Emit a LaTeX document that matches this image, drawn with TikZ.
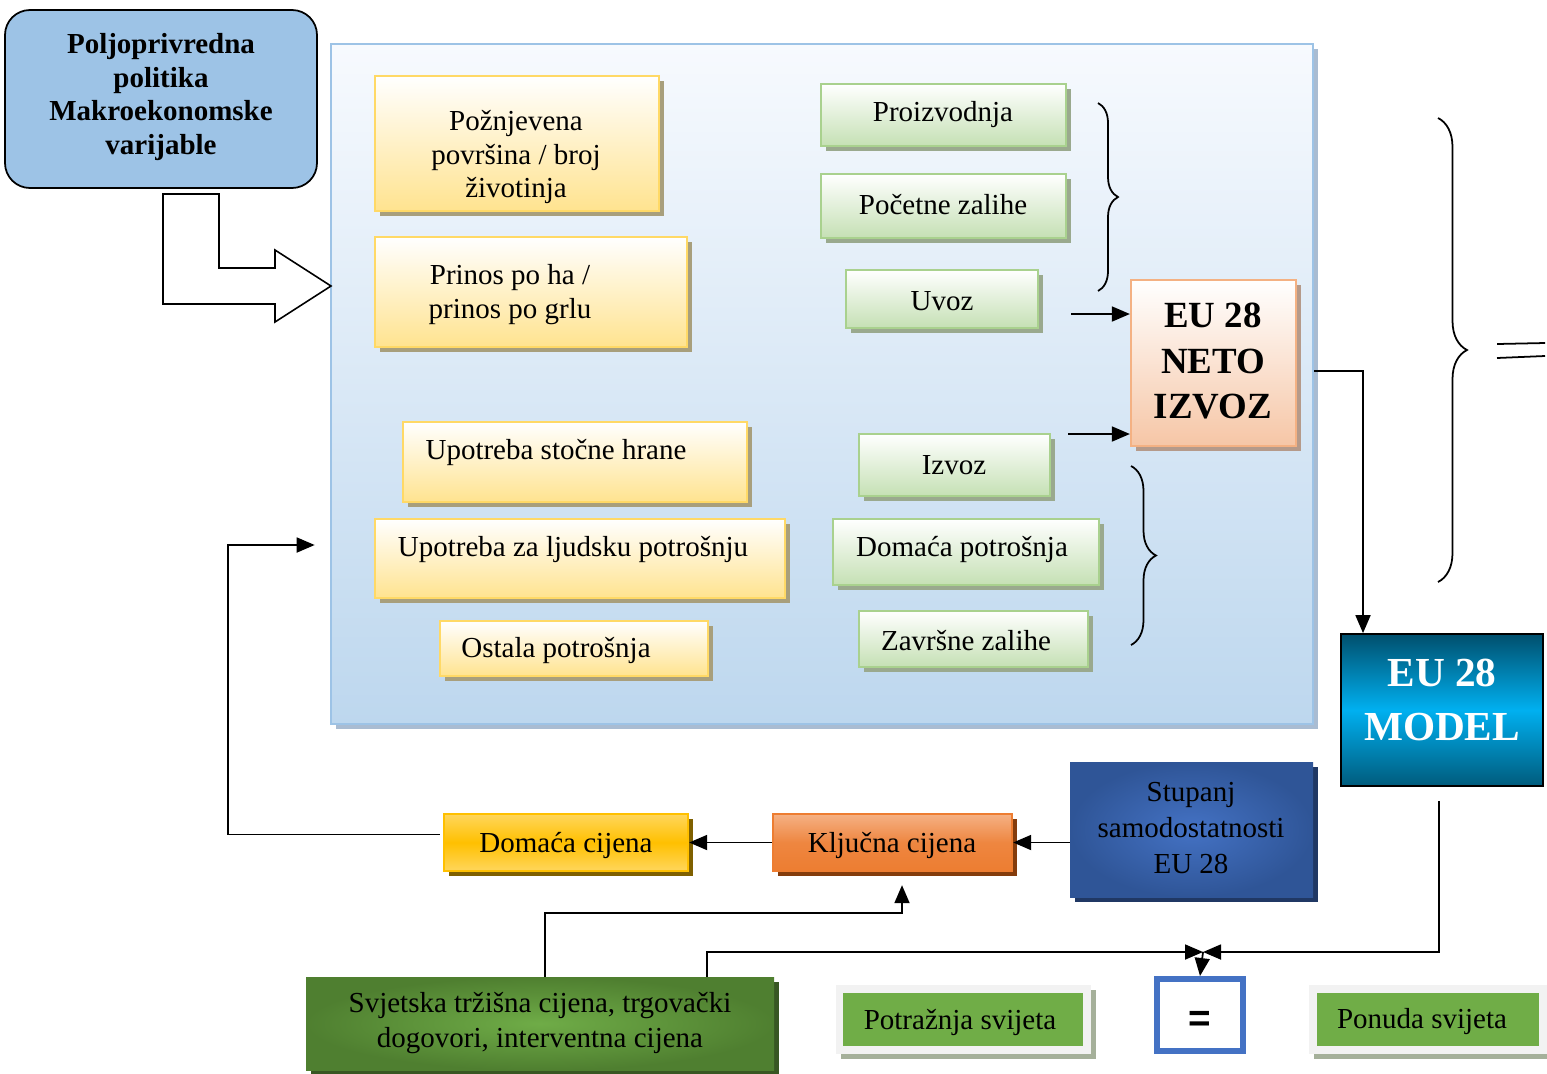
\documentclass[tikz,border=0pt]{standalone}
\usepackage{fontspec}
\setmainfont{Liberation Serif}
\newfontfamily\eqfont{Liberation Sans}
\usetikzlibrary{arrows.meta,calc,fit,shadows,decorations.pathreplacing}
\definecolor{polblue}{HTML}{9DC3E6}
\definecolor{paneltop}{HTML}{F7FAFE}
\definecolor{panelbot}{HTML}{BDD7EE}
\definecolor{panelsh}{HTML}{A9BCD2}
\definecolor{ybord}{HTML}{FFD966}
\definecolor{yfill}{HTML}{FFE38F}
\definecolor{yshad}{HTML}{A89F7C}
\definecolor{gbord}{HTML}{A9D18E}
\definecolor{gfill}{HTML}{C5E0B4}
\definecolor{gshad}{HTML}{9AA98E}
\definecolor{nbord}{HTML}{F4B183}
\definecolor{nfill}{HTML}{F6C6A6}
\definecolor{nshad}{HTML}{B59A8A}
\definecolor{mdark}{HTML}{004F6D}
\definecolor{mdark2}{HTML}{005B7C}
\definecolor{mbright}{HTML}{00B0F0}
\definecolor{stin}{HTML}{4472C4}
\definecolor{stout}{HTML}{2F5597}
\definecolor{stsh}{HTML}{203864}
\definecolor{kltop}{HTML}{F5B184}
\definecolor{klmid}{HTML}{EE8640}
\definecolor{klbot}{HTML}{ED7D31}
\definecolor{klsh}{HTML}{843C0C}
\definecolor{dctop}{HTML}{FFD65C}
\definecolor{dcmid}{HTML}{FFC000}
\definecolor{dcsh}{HTML}{7F6000}
\definecolor{svin}{HTML}{6FAC47}
\definecolor{svout}{HTML}{4F7F30}
\definecolor{svsh}{HTML}{385723}
\definecolor{eqblue}{HTML}{4472C4}
\definecolor{frgray}{HTML}{F2F2F2}
\definecolor{wgreen}{HTML}{70AD47}
\definecolor{wsh}{HTML}{A5B09A}
\begin{document}
\begin{tikzpicture}[x=0.02cm,y=-0.02cm,
  font=\fontsize{16.5}{19.3}\selectfont,
  shad/.style={drop shadow={shadow xshift=0.1cm,shadow yshift=-0.1cm,fill=#1,opacity=1}},
  ybox/.style={draw=ybord,line width=1.3pt,top color=white,bottom color=yfill,shad=yshad,inner sep=0pt},
  gbox/.style={draw=gbord,line width=1.3pt,top color=white,bottom color=gfill,shad=gshad,inner sep=0pt},
  conn/.style={line width=1pt,draw=black},
  arr/.style={conn,-{Triangle[length=0.36cm,width=0.3cm]}},
  bracestyle/.style={line width=1pt,decorate,decoration={brace,amplitude=#1}},
  wframe/.style={fill=frgray,inner sep=0pt,shad=wsh},
  wbox/.style={fill=wgreen,inner sep=0pt},
  lbl/.style={align=center,inner sep=0pt}]
\useasboundingbox (0,0) rectangle (1547,1073);
\fill[white] (0,0) rectangle (1547,1073);

% left policy box
\node[draw=black,line width=1pt,fill=polblue,rounded corners=0.5cm,inner sep=0pt,
  fit={(5,10)(317,188)}] (pol) {};
\node[lbl,font=\fontsize{16.5}{19.3}\selectfont\bfseries] (tpol) at (161,97) {Poljoprivredna\\politika\\Makroekonomske\\varijable};

% big panel
\node[draw=polblue,line width=1.5pt,top color=paneltop,bottom color=panelbot,
  shad=panelsh,inner sep=0pt,fit={(331,44)(1313,724)}] (panel) {};

% block arrow
\draw[line width=0.9pt,fill=white] (163,194) -- (219,194) -- (219,268) -- (275,268) -- (275,250)
  -- (331,286) -- (275,322) -- (275,304) -- (163,304) -- cycle;

% yellow boxes
\node[ybox,fit={(375,76)(659,211)}] (y1) {};
\node[lbl] (ty1) at (516,157) {Požnjevena\\površina / broj\\životinja};
\node[ybox,fit={(375,237)(687,347)}] (y2) {};
\node[lbl] (ty2) at (510,295) {Prinos po ha /\\prinos po grlu};
\node[ybox,fit={(403,422)(747,502)}] (y3) {};
\node[lbl] (ty3) at (556,452) {Upotreba stočne hrane};
\node[ybox,fit={(375,519)(785,598)}] (y4) {};
\node[lbl] (ty4) at (573,549) {Upotreba za ljudsku potrošnju};
\node[ybox,fit={(440,621)(708,676)}] (y5) {};
\node[lbl] (ty5) at (556,650) {Ostala potrošnja};

% green boxes
\node[gbox,fit={(821,84)(1066,146)}] (g1) {};
\node[lbl] (tg1) at (943,115) {Proizvodnja};
\node[gbox,fit={(821,174)(1066,238)}] (g2) {};
\node[lbl] (tg2) at (943,205) {Početne zalihe};
\node[gbox,fit={(846,270)(1038,328)}] (g3) {};
\node[lbl] (tg3) at (942,301) {Uvoz};
\node[gbox,fit={(859,434)(1050,496)}] (g4) {};
\node[lbl] (tg4) at (954,465) {Izvoz};
\node[gbox,fit={(833,519)(1099,585)}] (g5) {};
\node[lbl] (tg5) at (962,549) {Domaća potrošnja};
\node[gbox,fit={(859,611)(1088,667)}] (g6) {};
\node[lbl] (tg6) at (966,641) {Završne zalihe};

% braces
\draw[bracestyle=0.4cm] (1098,103) -- (1098,291);
\draw[bracestyle=0.5cm] (1131,466) -- (1131,645);
\draw[bracestyle=0.58cm] (1438,118) -- (1438,582);
\draw[line width=1pt] (1497,344) -- (1545,343);
\draw[line width=1pt] (1497,358) -- (1545,356);

% neto izvoz
\node[draw=nbord,line width=1.3pt,top color=white,bottom color=nfill,shad=nshad,inner sep=0pt,
  fit={(1131,280)(1296,446)}] (neto) {};
\node[lbl,font=\fontsize{21}{26}\selectfont\bfseries] (tneto) at (1213,361) {EU 28\\NETO\\IZVOZ};
\draw[arr] ($(g3.east)+(32,15)$) -- ($(neto.west)+(0,-49)$);
\draw[arr] ($(g4.east)+(17,-31)$) -- ($(neto.west)+(0,71)$);

% model
\node[draw=black,line width=1pt,top color=mdark,bottom color=mdark2,middle color=mbright,
  inner sep=0pt,fit={(1341,634)(1543,786)}] (model) {};
\node[lbl,text=white,font=\fontsize{23.5}{30.6}\selectfont\bfseries] (tmodel) at (1442,700) {EU 28\\MODEL};
\draw[arr] ($(neto.east -| panel.east)+(0,8)$) -| ($(model.north)+(-79,0)$);

% stupanj
\node[inner color=stin,outer color=stout,shad=stsh,inner sep=0pt,
  fit={(1070,762)(1313,897)}] (stup) {};
\node[lbl,font=\fontsize{16.5}{20.4}\selectfont] (tstup) at (1191,828) {Stupanj\\samodostatnosti\\EU 28};

% kljucna cijena
\node[draw=klbot,line width=1.3pt,top color=kltop,bottom color=klbot,middle color=klmid,
  shad=klsh,inner sep=0pt,fit={(773,814)(1012,871)}] (klj) {};
\node[lbl] (tklj) at (892,845) {Ključna cijena};
% domaca cijena
\node[draw=dcmid,line width=1.3pt,top color=dctop,bottom color=dctop,middle color=dcmid,
  shad=dcsh,inner sep=0pt,fit={(444,814)(688,871)}] (dom) {};
\node[lbl] (tdom) at (566,845) {Domaća cijena};

\draw[arr] (stup.west |- klj.east) -- (klj.east);
\draw[arr] (klj.west) -- (dom.east);
\draw[arr] ($(dom.west)+(-3,-8)$) -- ++(-212,0) |- ($(panel.west)+(-15,161)$);

% svjetska
\node[inner color=svin,outer color=svout,shad=svsh,inner sep=0pt,
  fit={(306,977)(774,1070)}] (svj) {};
\node[lbl,font=\fontsize{16.5}{20.4}\selectfont] (tsvj) at (540,1023) {Svjetska tržišna cijena, trgovački\\dogovori, interventna cijena};
\draw[arr] ($(svj.north)+(5,0)$) |- ($(klj.south)+(9.5,41)$) -- ($(klj.south)+(9.5,13)$);

% equality box
\node[draw=eqblue,line width=3.4pt,fill=white,inner sep=0pt,
  fit={(1157,979)(1243,1051)}] (eqb) {};
\node[lbl,font=\fontsize{22}{22}\eqfont\bfseries] (teq) at (1200,1021) {=};
\coordinate (meet) at (1203,952);
\draw[arr] ($(svj.north)+(167,0)$) |- (meet);
\draw[arr] ($(model.south)+(-3,14)$) |- (meet);
\draw[arr] (meet) -- (eqb.north);

% world demand / supply
\node[wframe,fit={(836,985)(1091,1054)}] (potf) {};
\node[wbox,fit={(843,993)(1083,1046)}] (pot) {};
\node[lbl] (tpot) at (960,1022) {Potražnja svijeta};
\node[wframe,fit={(1309,985)(1547,1054)}] (ponf) {};
\node[wbox,fit={(1317,993)(1539,1046)}] (pon) {};
\node[lbl] (tpon) at (1422,1022) {Ponuda svijeta};
\end{tikzpicture}
\end{document}
